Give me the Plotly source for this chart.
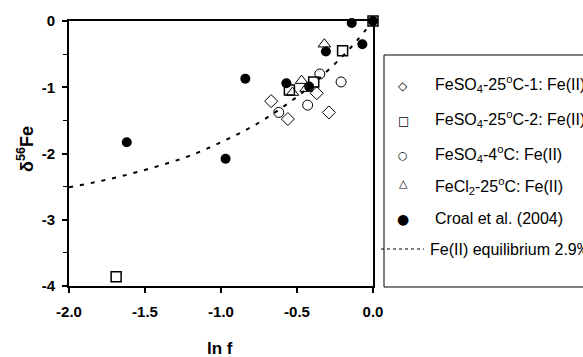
import plotly.graph_objects as go

# ---- data ----
diamond_x = [-0.67, -0.56, -0.37, -0.29]
diamond_y = [-1.21, -1.48, -1.09, -1.38]

square_x = [0.0, -0.20, -0.39, -0.55, -1.69]
square_y = [0.0, -0.45, -0.92, -1.04, -3.86]

circle_x = [-0.35, -0.21, -0.43, -0.62]
circle_y = [-0.80, -0.92, -1.27, -1.38]

triangle_x = [-0.32, -0.47, -0.53, -0.44]
triangle_y = [-0.35, -0.90, -1.08, -1.02]

croal_x = [0.0, -0.14, -0.07, -0.31, -0.84, -0.57, -0.42, -1.62, -0.97]
croal_y = [0.0, -0.03, -0.35, -0.46, -0.87, -0.94, -0.99, -1.83, -2.08]

curve_x = [-2.0, -1.8, -1.6, -1.4, -1.2, -1.0, -0.8, -0.6, -0.4, -0.2, -0.1, 0.0]
curve_y = [-2.51, -2.42, -2.31, -2.18, -2.03, -1.83, -1.60, -1.31, -0.96, -0.53, -0.28, 0.0]

x_tickvals = [-2.0, -1.5, -1.0, -0.5, 0.0]
x_ticktext = ["-2.0", "-1.5", "-1.0", "-0.5", "0.0"]
y_tickvals = [-4, -3, -2, -1, 0]
y_ticktext = ["-4", "-3", "-2", "-1", "0"]

legend_labels = [
    "FeSO<sub>4</sub>-25<sup>o</sup>C-1: Fe(II)",
    "FeSO<sub>4</sub>-25<sup>o</sup>C-2: Fe(II)",
    "FeSO<sub>4</sub>-4<sup>o</sup>C: Fe(II)",
    "FeCl<sub>2</sub>-25<sup>o</sup>C: Fe(II)",
    "Croal et al. (2004)",
    "Fe(II) equilibrium 2.9‰",
]
legend_glyphs = ["◇", "□", "○", "△", "●"]

# ---- layout geometry (pixels) ----
W, H = 583, 357
L, R, T, B = 69, 373, 21, 286


def px(xp):
    return (xp - L) / (R - L)


def py(yp):
    return (B - yp) / (B - T)


FONT = "Arial, Liberation Sans, Helvetica, sans-serif"

fig = go.Figure()

mk_line = dict(color="black", width=1)
fig.add_trace(go.Scatter(x=curve_x, y=curve_y, mode="lines", line_shape="spline",
                         line=dict(color="black", width=2, dash="4px,7px"),
                         showlegend=False, hoverinfo="skip"))
fig.add_trace(go.Scatter(x=diamond_x, y=diamond_y, mode="markers",
                         marker=dict(symbol="diamond-open", size=10, color="black", line=mk_line),
                         cliponaxis=False, showlegend=False))
fig.add_trace(go.Scatter(x=square_x, y=square_y, mode="markers",
                         marker=dict(symbol="square-open", size=10, color="black", line=dict(color="black", width=1.5)),
                         cliponaxis=False, showlegend=False))
fig.add_trace(go.Scatter(x=circle_x, y=circle_y, mode="markers",
                         marker=dict(symbol="circle-open", size=10, color="black", line=mk_line),
                         cliponaxis=False, showlegend=False))
fig.add_trace(go.Scatter(x=triangle_x, y=triangle_y, mode="markers",
                         marker=dict(symbol="triangle-up-open", size=11, color="black", line=mk_line),
                         cliponaxis=False, showlegend=False))
fig.add_trace(go.Scatter(x=croal_x, y=croal_y, mode="markers",
                         marker=dict(symbol="circle", size=10, color="black"),
                         cliponaxis=False, showlegend=False))

annotations = []
shapes = []

# axis titles
annotations.append(dict(x=px(220), y=py(348), xref="paper", yref="paper", text="ln f",
                        showarrow=False, xanchor="center", yanchor="middle",
                        font=dict(family=FONT, size=17, color="black", weight="bold")))
annotations.append(dict(x=px(25), y=py(149), xref="paper", yref="paper", text="δ<sup>56</sup>Fe",
                        showarrow=False, xanchor="center", yanchor="middle", textangle=-90,
                        font=dict(family=FONT, size=18, color="black", weight="bold")))

# legend box
shapes.append(dict(type="rect", xref="paper", yref="paper", x0=px(384), x1=px(600),
                   y0=py(287), y1=py(55), line=dict(color="black", width=1)))

row_y = [84, 119, 154, 186, 218, 249]
glyph_y = [86, 121, 155, 183, 219]
glyph_size = [12, 12, 11, 11, 14]
for i, g in enumerate(legend_glyphs):
    annotations.append(dict(x=px(403), y=py(glyph_y[i]), xref="paper", yref="paper", text=g,
                            showarrow=False, xanchor="center", yanchor="middle",
                            font=dict(family="DejaVu Sans", size=glyph_size[i], color="black")))
for i, lab in enumerate(legend_labels):
    xt = 433 if i < 5 else 428
    annotations.append(dict(x=px(xt), y=py(row_y[i]), xref="paper", yref="paper", text=lab,
                            showarrow=False, xanchor="left", yanchor="middle",
                            font=dict(family=FONT, size=16, color="black")))
shapes.append(dict(type="line", xref="paper", yref="paper", x0=px(381), x1=px(424),
                   y0=py(249), y1=py(249), line=dict(color="black", width=1, dash="3px,3px")))

fig.update_layout(
    width=W, height=H,
    margin=dict(l=L, r=W - R, t=T, b=H - B, autoexpand=False),
    paper_bgcolor="white", plot_bgcolor="white",
    showlegend=False,
    annotations=annotations, shapes=shapes,
    xaxis=dict(range=[-2.0, 0.0], tickvals=x_tickvals, ticktext=x_ticktext,
               ticks="outside", ticklen=5, tickwidth=1.5, tickcolor="black",
               showline=True, linewidth=2, linecolor="black", mirror=True,
               showgrid=False, zeroline=False, ticklabelstandoff=6,
               tickfont=dict(family=FONT, size=15, color="black", weight="bold")),
    yaxis=dict(range=[-4.0, 0.0], tickvals=y_tickvals, ticktext=y_ticktext,
               ticks="outside", ticklen=5, tickwidth=1.5, tickcolor="black",
               minor=dict(tickvals=[-3.5, -2.5, -1.5, -0.5], ticks="outside", ticklen=4,
                          tickwidth=1, tickcolor="black", showgrid=False),
               showline=True, linewidth=2, linecolor="black", mirror=True,
               showgrid=False, zeroline=False, ticklabelstandoff=4,
               tickfont=dict(family=FONT, size=15, color="black", weight="bold")),
)

fig.write_html("out.html")
